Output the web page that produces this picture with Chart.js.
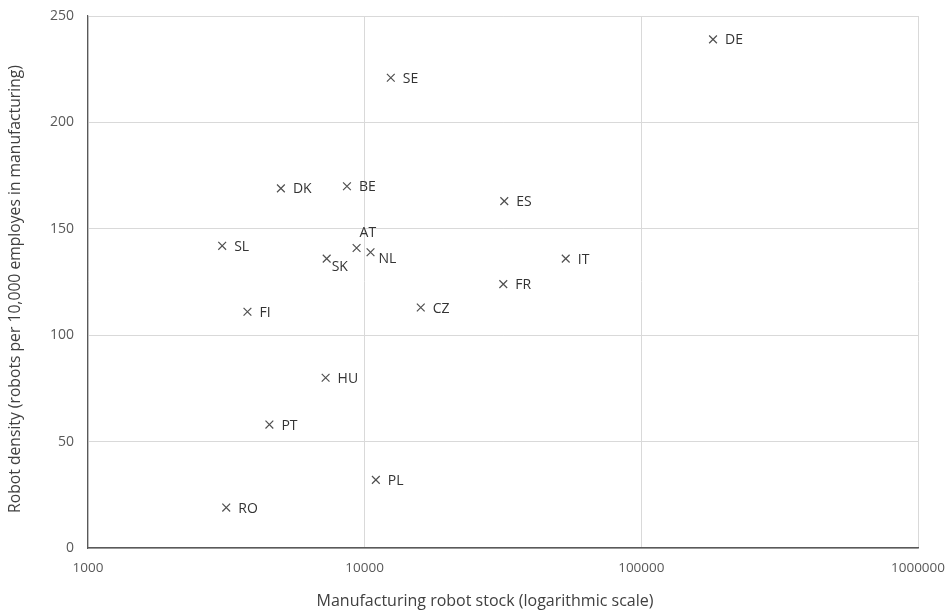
<!DOCTYPE html>
<html>
<head>
<meta charset="utf-8">
<script src="https://cdn.jsdelivr.net/npm/chart.js@4"></script>
<style>
  html, body { margin: 0; padding: 0; background: #fff; }
  #wrap { width: 949px; height: 611px; }
</style>
</head>
<body>
<div id="wrap"><canvas id="grafico" width="949" height="611"></canvas></div>
<script>
// --- DATOS ---
const paises = ['SE', 'DK', 'BE', 'SL', 'AT', 'NL', 'SK', 'DE', 'ES', 'IT', 'FR', 'CZ', 'FI', 'HU', 'PT', 'PL', 'RO'];
const stockRobots = [12430, 4980, 8630, 3055, 9350, 10500, 7290, 181600, 31960, 53300, 31700, 15950, 3770, 7225, 4525, 10975, 3160];
const densidad = [221, 169, 170, 142, 141, 139, 136, 239, 163, 136, 124, 113, 111, 80, 58, 32, 19];
const ticksX = [1000, 10000, 100000, 1000000];

const tituloX = 'Manufacturing robot stock (logarithmic scale)';
const tituloY = 'Robot density (robots per 10,000 employes in manufacturing)';

// desplazamiento de etiquetas (solo las que no van a la derecha)
const posEtiqueta = {
    AT: { dx: 3, dy: -15 },
    NL: { dx: 8, dy: 7 },
    SK: { dx: 5, dy: 8 }
};

const FUENTE = '"Open Sans", sans-serif';

const etiquetasPlugin = {
    id: 'etiquetas',
    afterDatasetsDraw(chart) {
        const ctx = chart.ctx;
        const meta = chart.getDatasetMeta(0);
        const area = chart.chartArea;
        ctx.save();
        ctx.font = '14px ' + FUENTE;
        ctx.fillStyle = '#333333';
        ctx.textAlign = 'left';
        ctx.textBaseline = 'middle';
        meta.data.forEach((p, i) => {
            const off = posEtiqueta[paises[i]] || { dx: 12, dy: 1 };
            ctx.fillText(paises[i], p.x + off.dx, p.y + off.dy);
        });

        // titulos de los ejes (algo descentrados, como en el original)
        ctx.fillStyle = '#404040';
        ctx.textAlign = 'center';
        ctx.font = '16px ' + FUENTE;
        ctx.fillText(tituloX, (area.left + area.right) / 2 - 18, chart.height - 10);

        ctx.font = '15.7px ' + FUENTE;
        ctx.translate(15.5, (area.top + area.bottom) / 2 + 7);
        ctx.rotate(-Math.PI / 2);
        ctx.fillText(tituloY, 0, 0);
        ctx.restore();
    }
};

const ctx = document.getElementById('grafico').getContext('2d');
new Chart(ctx, {
    type: 'scatter',
    data: {
        datasets: [{
            data: stockRobots.map((x, i) => ({ x: x, y: densidad[i] })),
            pointStyle: 'crossRot',
            pointRadius: 5.5,
            borderColor: '#505050',
            borderWidth: 1.2,
            backgroundColor: '#505050'
        }]
    },
    options: {
        responsive: false,
        animation: false,
        layout: { padding: { top: 16, right: 31, left: 0, bottom: 0 } },
        plugins: {
            legend: { display: false },
            tooltip: { enabled: false }
        },
        scales: {
            x: {
                type: 'logarithmic',
                min: 1000,
                max: 1000000,
                afterBuildTicks: (scale) => { scale.ticks = ticksX.map(v => ({ value: v })); },
                afterFit: (scale) => {
                    scale.height = 63;
                    scale.paddingLeft = 0;
                    scale.paddingRight = 0;
                },
                ticks: {
                    color: '#595959',
                    font: { family: FUENTE, size: 13.5 },
                    padding: 12,
                    maxRotation: 0,
                    callback: (v) => String(v)
                },
                grid: { color: '#d9d9d9', lineWidth: 1, drawTicks: false },
                border: { color: '#595959', width: 1.5 },
                title: { display: false }
            },
            y: {
                min: 0,
                max: 250,
                afterFit: (scale) => {
                    scale.width = 88;
                    scale.paddingTop = 0;
                    scale.paddingBottom = 0;
                },
                ticks: {
                    stepSize: 50,
                    color: '#595959',
                    font: { family: FUENTE, size: 14 },
                    padding: 14
                },
                grid: { color: '#d9d9d9', lineWidth: 1, drawTicks: false },
                border: { color: '#595959', width: 1.2 },
                title: { display: false }
            }
        }
    },
    plugins: [etiquetasPlugin]
});
</script>
</body>
</html>
